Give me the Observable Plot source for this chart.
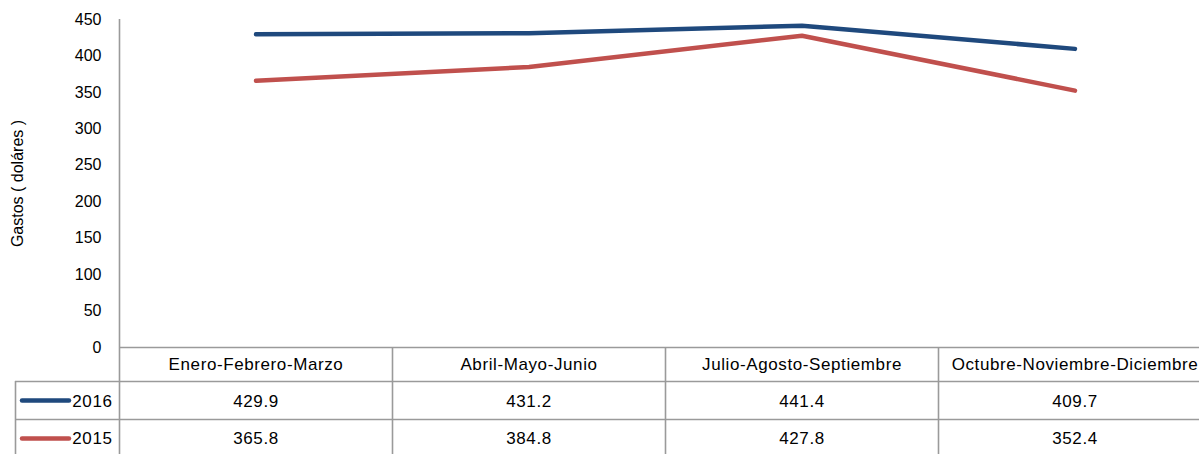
<!DOCTYPE html>
<html>
<head>
<meta charset="utf-8">
<script src="https://cdn.jsdelivr.net/npm/d3@7"></script>
<script src="https://cdn.jsdelivr.net/npm/@observablehq/plot@0.6"></script>
<style>
  html, body { margin: 0; padding: 0; background: #fff; }
  #chart svg { font-family: "Liberation Sans", Arial, sans-serif; overflow: hidden; }
</style>
</head>
<body>
<div id="chart"></div>
<script>
// ---- data ----
const quarters = ["Enero-Febrero-Marzo", "Abril-Mayo-Junio", "Julio-Agosto-Septiembre", "Octubre-Noviembre-Diciembre"];
const series = ["2016", "2015"];
const values2016 = [429.9, 431.2, 441.4, 409.7];
const values2015 = [365.8, 384.8, 427.8, 352.4];
const yTicks = [0, 50, 100, 150, 200, 250, 300, 350, 400, 450];
const yLabel = "Gastos ( doláres )";
const colors = ["#1F497D", "#C0504D"];

// ---- layout ----
const W = 1199, H = 454;
const mL = 119, mR = -12, mT = 19, mB = 107;
const bw = (W - mR - mL) / quarters.length;   // band width
const plotH = H - mT - mB;
const hdrH = 34, rowH = 38, legendW = 104;
const gridColor = "#9a9a9a";

const rows = [];
quarters.forEach((q, i) => {
  rows.push({q, series: "2016", v: values2016[i]});
  rows.push({q, series: "2015", v: values2015[i]});
});
const seriesValues = [values2016, values2015];

const fmt = d3.format(".1f");

const tableText = (data, opts) => Plot.text(data, {frameAnchor: "bottom", lineAnchor: "middle",
  fontSize: 17, fill: "#000", ...opts});

const legendMarks = series.flatMap((s, i) => {
  const dy = hdrH + rowH * i + rowH / 2;
  return [
    Plot.ruleY([s], {y: () => 0, dy, stroke: colors[i], strokeWidth: 4.5, strokeLinecap: "round",
      insetLeft: -(mL - 22), insetRight: (W - mR) - 69}),
    tableText([s], {text: d => d, frameAnchor: "bottom-left", textAnchor: "end", dx: -7, dy: dy + (i === 0 ? 1 : 0)})
  ];
});

const valueMarks = series.map((s, i) =>
  tableText(seriesValues[i], {x: (d, j) => quarters[j], text: d => fmt(d),
    dy: hdrH + rowH * i + rowH / 2 + (i === 0 ? 1 : 0)})
);

const chart = Plot.plot({
  width: W, height: H,
  marginLeft: mL, marginRight: mR, marginTop: mT, marginBottom: mB,
  style: {fontFamily: "Liberation Sans, Arial, sans-serif", background: "#fff", color: "#000"},
  x: {type: "band", domain: quarters, padding: 0, axis: null},
  y: {domain: [0, 450], axis: null},
  color: {domain: series, range: colors},
  marks: [
    // y axis ticks and label
    Plot.axisY(yTicks, {tickSize: 0, tickPadding: 18, fontSize: 16, fill: "#000",
      label: yLabel, labelAnchor: "center", labelOffset: 108, labelArrow: "none"}),
    // y axis line (extends through the table)
    Plot.ruleX([quarters[0]], {dx: -bw / 2, insetBottom: -mB, stroke: gridColor, strokeWidth: 1.6}),
    // x axis line
    Plot.ruleY([0], {stroke: gridColor, strokeWidth: 1.6}),
    // table row lines
    Plot.ruleY([0], {dy: hdrH, insetLeft: -legendW, stroke: gridColor, strokeWidth: 1.6}),
    Plot.ruleY([0], {dy: hdrH + rowH, insetLeft: -legendW, stroke: gridColor, strokeWidth: 1.6}),
    // table column borders
    Plot.ruleX(quarters.slice(1), {dx: -bw / 2, insetTop: plotH, insetBottom: -mB, stroke: gridColor, strokeWidth: 1.6}),
    // legend column left border
    Plot.ruleX([quarters[0]], {dx: -bw / 2 - legendW, insetTop: plotH + hdrH, insetBottom: -mB, stroke: gridColor, strokeWidth: 1.6}),
    // data lines
    Plot.line(rows, {x: "q", y: "v", stroke: "series", strokeWidth: 4.5, strokeLinecap: "round", strokeLinejoin: "round"}),
    // table header
    tableText(quarters, {x: d => d, dy: hdrH / 2}),
    ...valueMarks,
    ...legendMarks
  ]
});
d3.select(chart).selectAll('g[aria-label="text"] text').style("letter-spacing", "0.6px");
document.getElementById("chart").appendChild(chart);
</script>
</body>
</html>
